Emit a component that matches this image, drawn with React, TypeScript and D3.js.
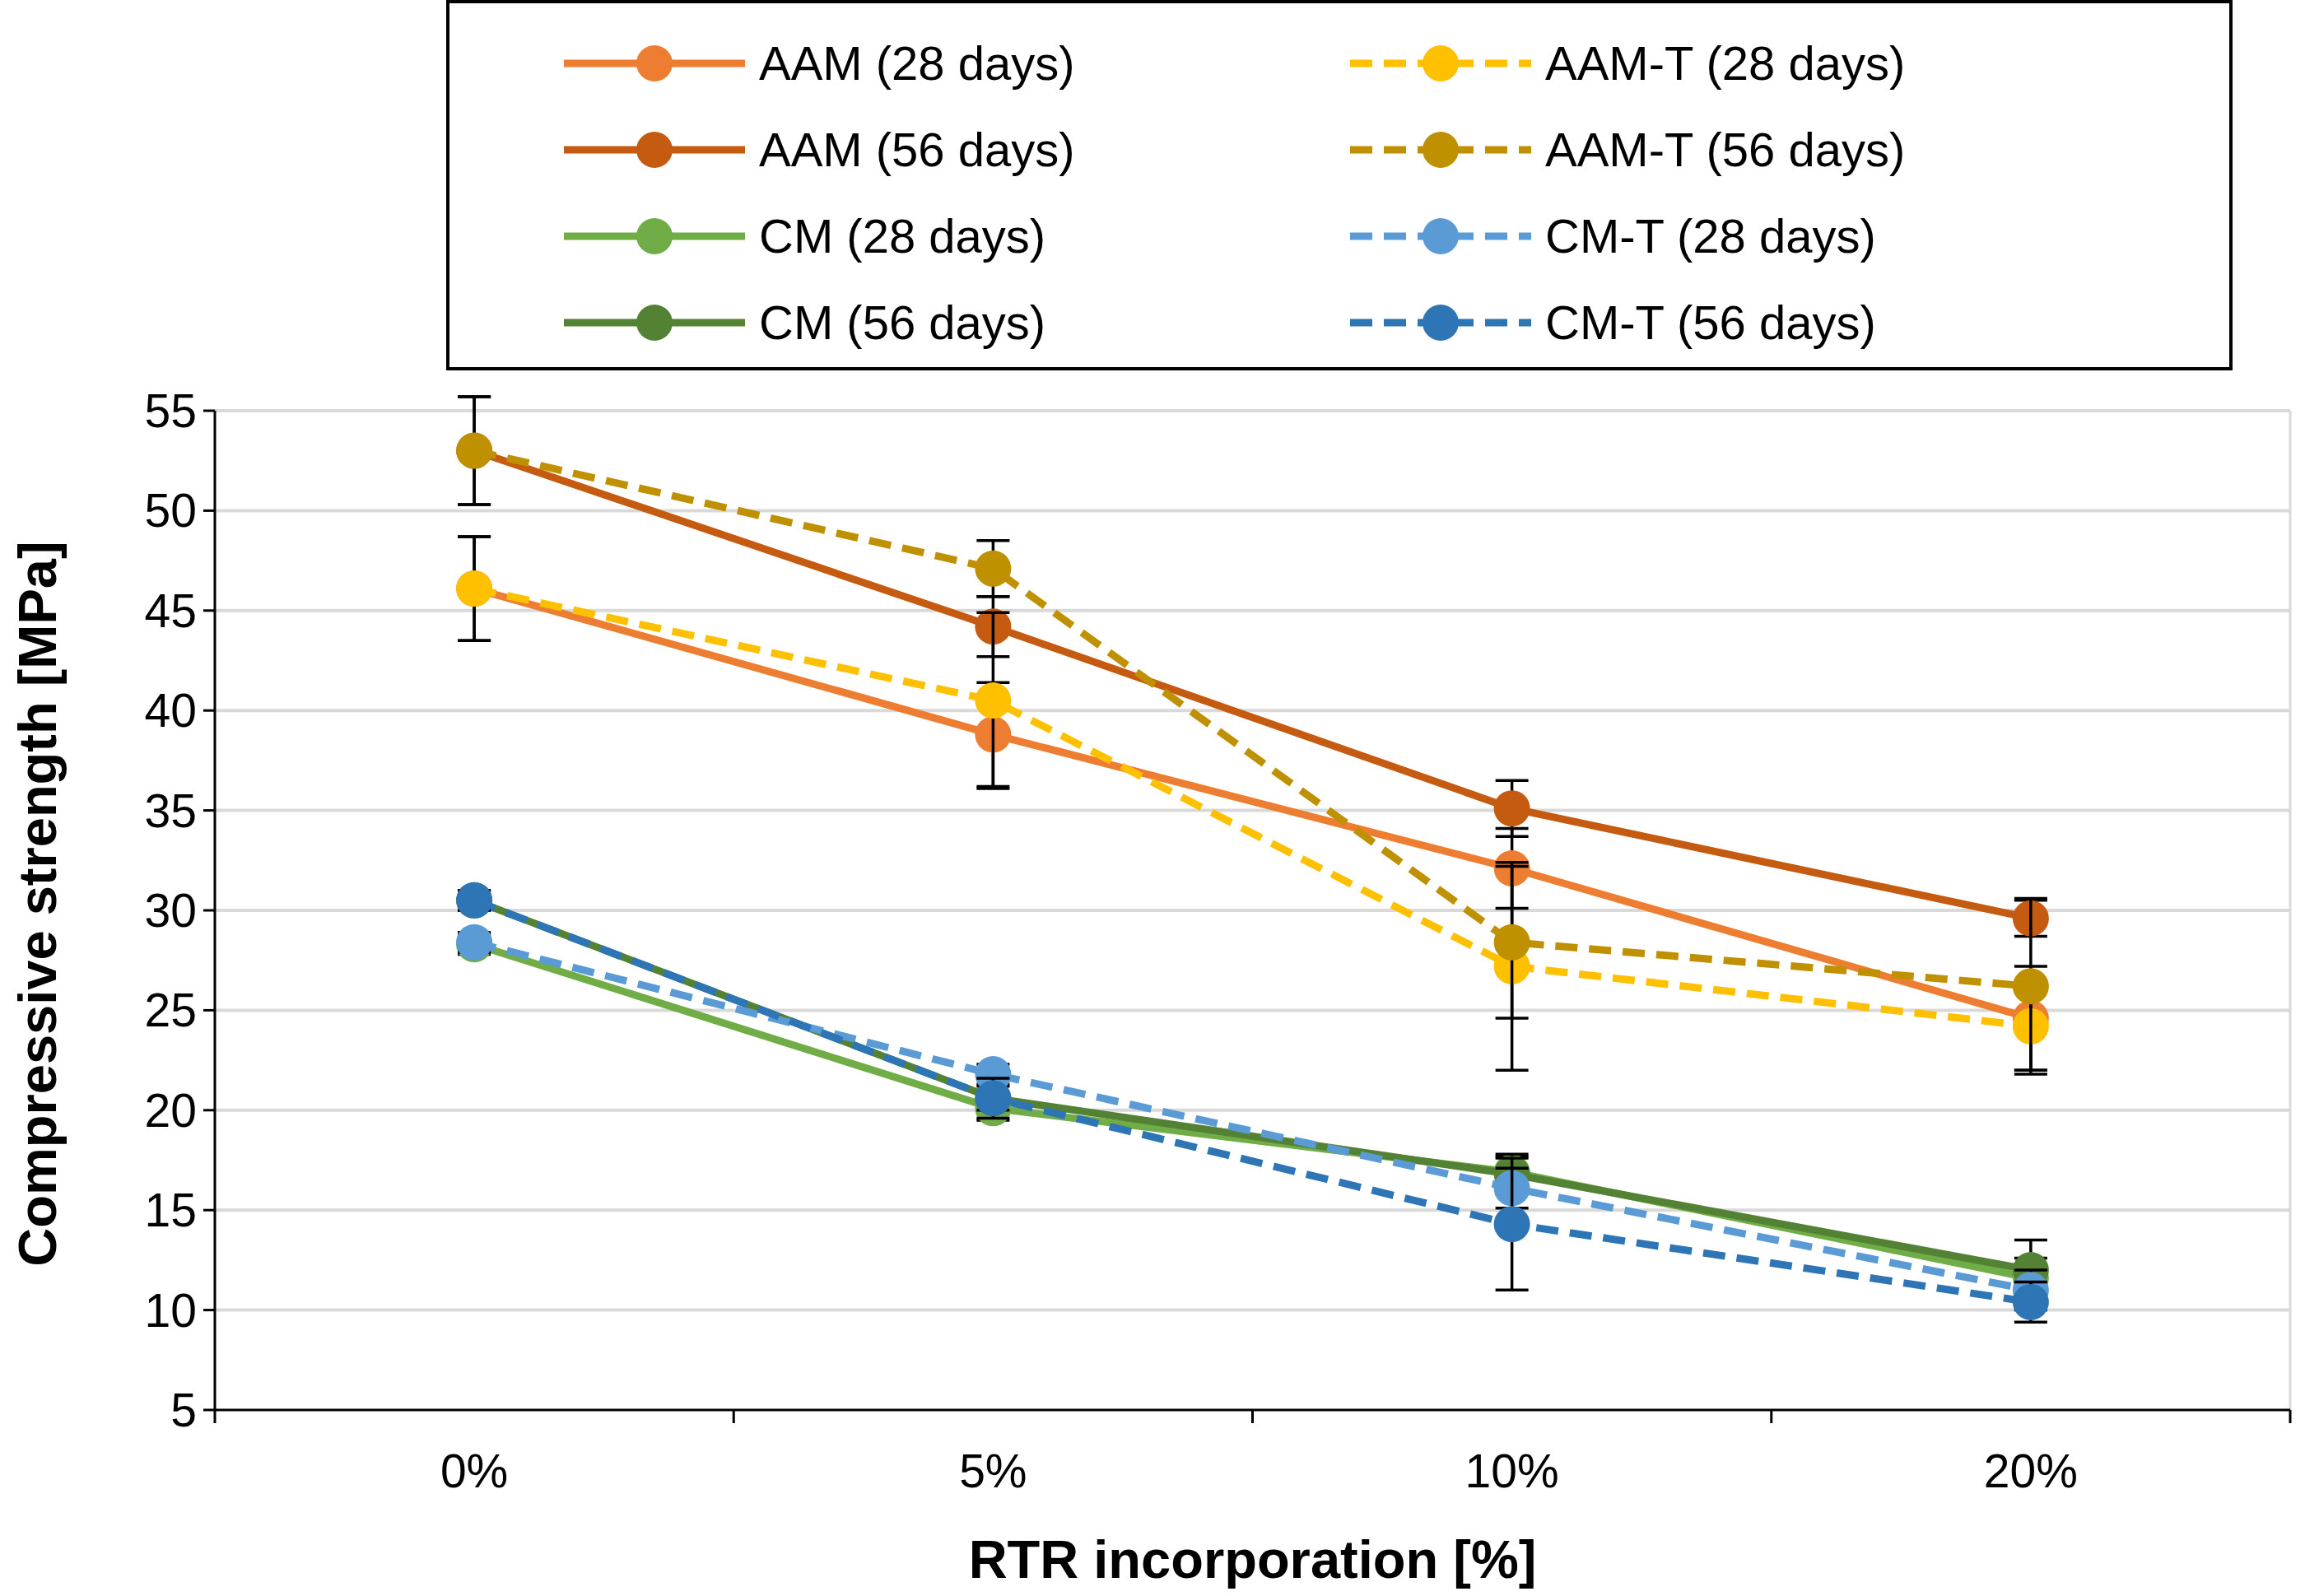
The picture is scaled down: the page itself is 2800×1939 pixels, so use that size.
import * as d3 from 'd3';

const categories = ['0%', '5%', '10%', '20%'];
const yTicks = [5, 10, 15, 20, 25, 30, 35, 40, 45, 50, 55];

const seriesNames = [
  'AAM (28 days)', 'AAM (56 days)', 'CM (28 days)', 'CM (56 days)',
  'AAM-T (28 days)', 'AAM-T (56 days)', 'CM-T (28 days)', 'CM-T (56 days)',
];
const seriesColors = ['#ED7D31', '#C55A11', '#70AD47', '#548235', '#FFC000', '#BF9000', '#5B9BD5', '#2E75B6'];
const seriesDashed = [false, false, false, false, true, true, true, true];
const seriesValues = [
  [46.1, 38.8, 32.1, 24.6],
  [53.0, 44.2, 35.1, 29.6],
  [28.3, 20.1, 16.9, 11.6],
  [30.5, 20.6, 16.8, 12.0],
  [46.1, 40.5, 27.2, 24.2],
  [53.0, 47.1, 28.4, 26.2],
  [28.4, 21.8, 16.1, 11.0],
  [30.5, 20.6, 14.3, 10.4],
];
const seriesErrors = [
  [2.6, 2.6, 2.0, 2.6],
  [2.7, 1.5, 1.4, 0.9],
  [0.5, 0.6, 0.8, 1.0],
  [0.5, 0.6, 1.0, 1.5],
  [2.6, 4.4, 5.2, 2.2],
  [2.7, 1.4, 3.8, 4.4],
  [0.5, 0.5, 1.0, 1.0],
  [0.5, 1.0, 3.3, 1.0],
];

const W = 2800;
const H = 1939;
const m = { left: 261, right: 2782, top: 499, bottom: 1713 };
const font = 'Arial, "Liberation Sans", sans-serif';

export default function App() {
  const x = d3.scaleBand().domain(categories).range([m.left, m.right]);
  const y = d3.scaleLinear().domain([5, 55]).range([m.bottom, m.top]);
  const cx = (c: string) => (x(c) as number) + x.bandwidth() / 2;
  const line = d3.line<number>().x((_, i) => cx(categories[i])).y((v) => y(v));
  const bounds = [m.left, ...categories.map((c) => (x(c) as number) + x.bandwidth())];

  const legendRows = [0, 1, 2, 3];
  const legendCols = [{ x0: 685, tx: 922 }, { x0: 1640, tx: 1877 }];

  return (
    <svg width={W} height={H} style={{ display: 'block', position: 'absolute', left: 0, top: 0 }} fontFamily={font}>
      <rect width={W} height={H} fill="#fff" />
      {yTicks.slice(1).map((t) => (
        <line key={t} x1={m.left} x2={m.right} y1={y(t)} y2={y(t)} stroke="#d9d9d9" strokeWidth={4} />
      ))}
      <line x1={m.right} x2={m.right} y1={m.top} y2={m.bottom} stroke="#d9d9d9" strokeWidth={3} />
      <line x1={m.left} x2={m.left} y1={m.top} y2={m.bottom} stroke="#000" strokeWidth={3} />
      <line x1={m.left} x2={m.right} y1={m.bottom} y2={m.bottom} stroke="#000" strokeWidth={3} />
      {yTicks.map((t) => (
        <g key={t}>
          <line x1={m.left - 14} x2={m.left} y1={y(t)} y2={y(t)} stroke="#000" strokeWidth={3} />
          <text x={m.left - 22} y={y(t)} dy="0.35em" textAnchor="end" fontSize={57}>{t}</text>
        </g>
      ))}
      {bounds.map((b, i) => (
        <line key={i} x1={b} x2={b} y1={m.bottom} y2={m.bottom + 16} stroke="#000" strokeWidth={3} />
      ))}
      {categories.map((c) => (
        <text key={c} x={cx(c)} y={m.bottom + 94} textAnchor="middle" fontSize={57}>{c}</text>
      ))}
      <text x={(m.left + m.right) / 2} y={1917} textAnchor="middle" fontSize={65} fontWeight="bold">RTR incorporation [%]</text>
      <text transform={`translate(68,${(m.top + m.bottom) / 2 - 8}) rotate(-90)`} textAnchor="middle" fontSize={65} fontWeight="bold">Compressive strength [MPa]</text>

      {seriesValues.map((vals, s) => (
        <g key={s}>
          <path d={line(vals) as string} fill="none" stroke={seriesColors[s]} strokeWidth={9}
            strokeDasharray={seriesDashed[s] ? '27,14' : undefined} />
          {vals.map((v, i) => {
            const px = cx(categories[i]);
            const e = seriesErrors[s][i];
            return (
              <g key={i} stroke="#000" strokeWidth={3.5}>
                <line x1={px} x2={px} y1={y(v - e)} y2={y(v + e)} />
                <line x1={px - 20} x2={px + 20} y1={y(v - e)} y2={y(v - e)} />
                <line x1={px - 20} x2={px + 20} y1={y(v + e)} y2={y(v + e)} />
              </g>
            );
          })}
          {vals.map((v, i) => (
            <circle key={i} cx={cx(categories[i])} cy={y(v)} r={22} fill={seriesColors[s]} />
          ))}
        </g>
      ))}

      <rect x={544} y={2} width={2166} height={446} fill="#fff" stroke="#000" strokeWidth={4} />
      {seriesNames.map((n, s) => {
        const col = legendCols[s < 4 ? 0 : 1];
        const ly = 77 + legendRows[s % 4] * 105;
        return (
          <g key={n}>
            <line x1={col.x0} x2={col.x0 + 220} y1={ly} y2={ly} stroke={seriesColors[s]} strokeWidth={9}
              strokeDasharray={seriesDashed[s] ? '27,14' : undefined} />
            <circle cx={col.x0 + 110} cy={ly} r={22} fill={seriesColors[s]} />
            <text x={col.tx} y={ly} dy="0.35em" fontSize={58}>{n}</text>
          </g>
        );
      })}
    </svg>
  );
}
